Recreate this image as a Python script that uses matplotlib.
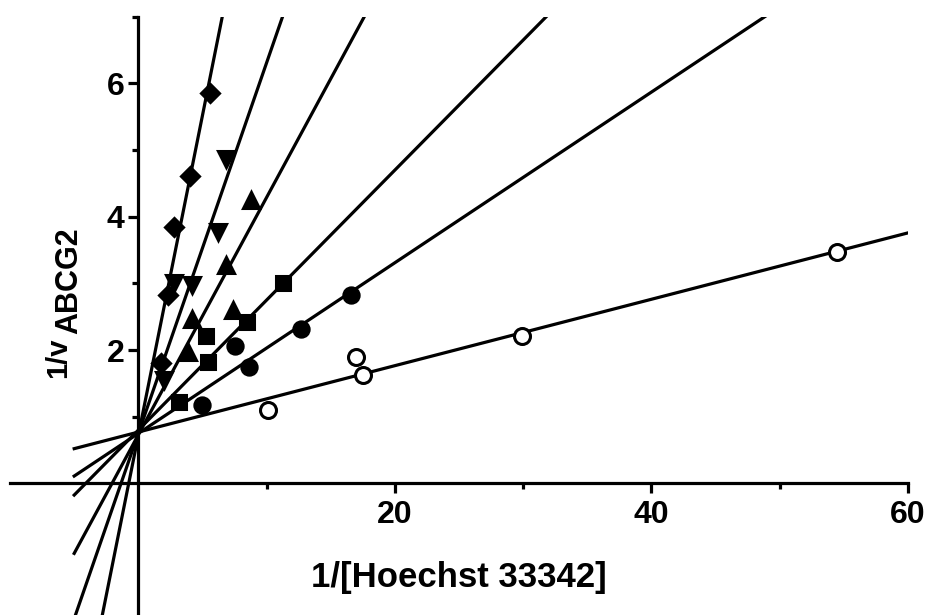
import matplotlib.pyplot as plt
from matplotlib.ticker import FixedLocator

plt.rcParams['font.family'] = ['Liberation Sans', 'DejaVu Sans']
plt.rcParams['font.weight'] = 'bold'

# data: 1/[Hoechst 33342] vs 1/v
open_x = [10.1, 17.0, 17.5, 29.9, 54.5]
open_y = [1.10, 1.89, 1.62, 2.21, 3.47]
circ_x = [4.95, 7.55, 8.6, 12.7, 16.6]
circ_y = [1.17, 2.06, 1.74, 2.32, 2.83]
sq_x = [3.2, 5.3, 5.4, 8.5, 11.3]
sq_y = [1.22, 2.21, 1.82, 2.42, 3.00]
tri_x = [3.9, 4.2, 7.4, 6.8, 8.8]
tri_y = [1.97, 2.46, 2.60, 3.27, 4.25]
inv_x = [2.0, 2.8, 4.2, 6.2, 6.8]
inv_y = [1.55, 3.00, 2.97, 3.77, 4.87]
dia_x = [1.8, 2.35, 2.75, 4.0, 5.6]
dia_y = [1.81, 2.82, 3.85, 4.61, 5.85]

# fitted lines (slope, intercept), same order as the series
slopes = [0.0498, 0.128, 0.195, 0.356, 0.556, 0.96]
intercepts = [0.77, 0.75, 0.80, 0.73, 0.75, 0.72]
fit_range = [-5, 60]

series = [
    (open_x, open_y, 'o', 'white', 11.5),
    (circ_x, circ_y, 'o', 'black', 11),
    (sq_x, sq_y, 's', 'black', 10.5),
    (tri_x, tri_y, '^', 'black', 11.5),
    (inv_x, inv_y, 'v', 'black', 11.5),
    (dia_x, dia_y, 'D', 'black', 9),
]

fig = plt.figure(figsize=(9.3, 6.15), dpi=100)
ax = fig.add_axes([0.0108, -0.0028, 0.9656, 0.9756])

for m, b in zip(slopes, intercepts):
    ys = [b + m * x for x in fit_range]
    ax.plot(fit_range, ys, color='black', lw=2.3, zorder=2)

for xs, ys, mk, fc, ms in series:
    ax.plot(xs, ys, linestyle='none', marker=mk, markersize=ms,
            markerfacecolor=fc, markeredgecolor='black', markeredgewidth=2.2,
            zorder=3)

ax.set_xlim(-10, 60)
ax.set_ylim(-2, 7)

ax.spines['left'].set_position(('data', 0))
ax.spines['bottom'].set_position(('data', 0))
ax.spines['top'].set_visible(False)
ax.spines['right'].set_visible(False)
ax.spines['left'].set_linewidth(2.3)
ax.spines['bottom'].set_linewidth(2.3)

ax.set_xticks([20, 40, 60])
ax.xaxis.set_minor_locator(FixedLocator([10, 30, 50]))
ax.set_yticks([2, 4, 6])
ax.yaxis.set_minor_locator(FixedLocator([1, 3, 5, 7]))
ax.tick_params(which='major', length=7, width=2.3, labelsize=23, direction='out')
ax.tick_params(which='minor', length=4.5, width=2.3, direction='out')
ax.tick_params(axis='x', which='major', pad=5)
ax.tick_params(axis='y', which='major', pad=3)
for lab in ax.get_xticklabels() + ax.get_yticklabels():
    lab.set_fontweight('bold')

fig.text(459 / 930, 1 - 578 / 615, '1/[Hoechst 33342]', fontsize=25,
         fontweight='bold', ha='center', va='center')
fig.text(58 / 930, 1 - 358 / 615, '1/v', fontsize=21, fontweight='bold',
         rotation=90, ha='center', va='center')
fig.text(69 / 930, 1 - 281 / 615, 'ABCG2', fontsize=22, fontweight='bold',
         rotation=90, ha='center', va='center')

fig.savefig('out.png', dpi=100)
